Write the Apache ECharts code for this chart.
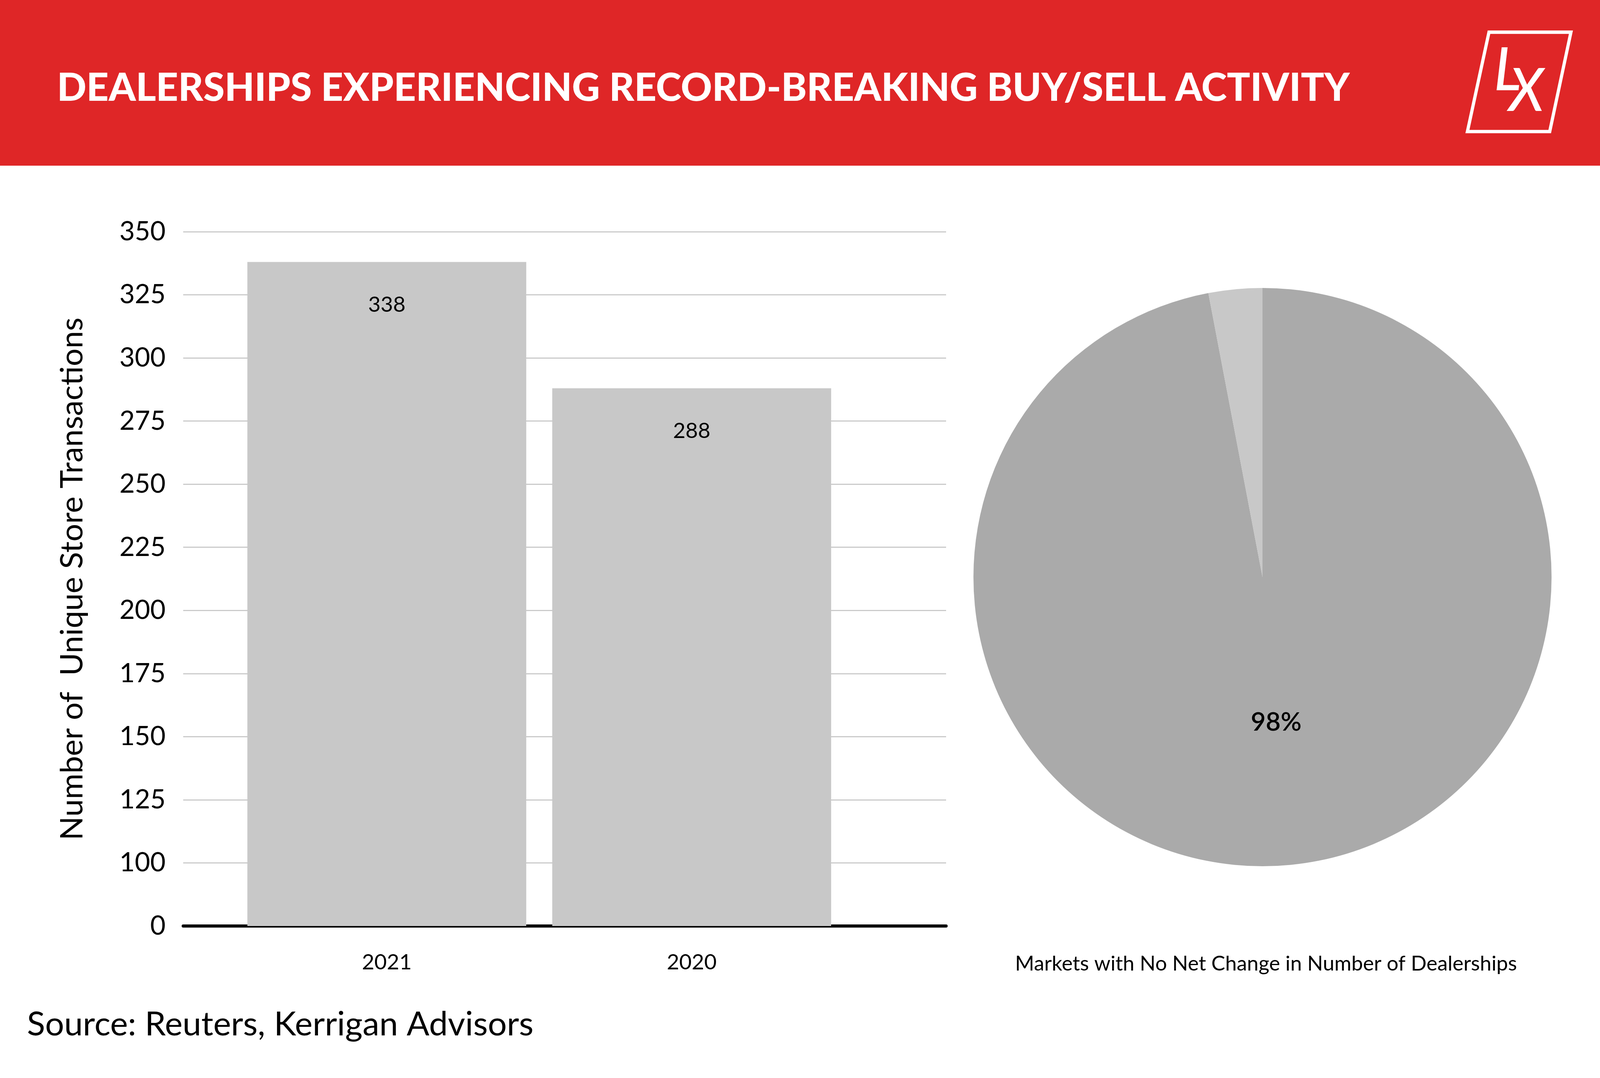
<!DOCTYPE html>
<html>
<head>
<meta charset="utf-8">
<title>Dealerships buy/sell activity</title>
<script src="https://cdn.jsdelivr.net/npm/echarts@6.0.0/dist/echarts.min.js"></script>
<style>
  html, body { margin: 0; padding: 0; background: #fff; overflow: hidden; }
  #main { width: 100vw; height: 100vh; }
</style>
</head>
<body>
<div id="main"></div>
<script>
// 柱状图数据
var years = ['2021', '2020'];
var transactions = [338, 288];
// y轴刻度 (最下面一格写的是0, 实际位置在75)
var yTickValues = [75, 100, 125, 150, 175, 200, 225, 250, 275, 300, 325, 350];
var yTickLabels = ['0', '100', '125', '150', '175', '200', '225', '250', '275', '300', '325', '350'];
// 饼图数据
var pieNames = ['No Net Change', 'Net Change'];
var pieValues = [97, 3];
var pieLabels = ['98%', ''];

var FONT = 'Lato';
var RED = '#df2627';

var myChart = echarts.init(document.getElementById('main'), null, { renderer: 'canvas' });
// 原图是5000x2759, 窗口宽度不够时按比例换算横坐标
var W = myChart.getWidth();
var H = myChart.getHeight();
function px(x) { return Math.round(x / 5000 * W); }
function py(y) { return Math.round(y / 2759 * H); }

/*
 * y轴刻度文字
 * */
function y_label(v) {
    var i = yTickValues.indexOf(v);
    return i < 0 ? '' : yTickLabels[i];
}

/*
 * 头部 标题 logo 来源等
 * */
function header_graphic() {
    return [
        {
            type: 'rect', left: 0, top: 0, z: 0,
            shape: { width: W, height: py(424) },
            style: { fill: RED }
        },
        {
            type: 'text', x: px(178), y: py(226), z: 1,
            style: {
                text: 'DEALERSHIPS EXPERIENCING RECORD-BREAKING BUY/SELL ACTIVITY',
                fill: '#fff', font: '900 99px ' + FONT,
                textAlign: 'left', textVerticalAlign: 'middle'
            }
        },
        //logo
        {
            type: 'group', x: px(4749), y: py(210), scaleX: 0.92, scaleY: 0.96, z: 1,
            children: [
                {
                    type: 'polygon',
                    shape: { points: [[-85, -133], [143, -133], [84, 132], [-145, 132]] },
                    style: { fill: 'none', stroke: '#fff', lineWidth: 9 }
                },
                {
                    type: 'text', x: -33, y: -30,
                    style: {
                        text: 'L', fill: '#fff', font: 'italic 500 160px ' + FONT,
                        textAlign: 'center', textVerticalAlign: 'middle'
                    }
                },
                {
                    type: 'text', x: 19, y: 25,
                    style: {
                        text: 'X', fill: '#fff', font: 'italic 500 160px ' + FONT,
                        textAlign: 'center', textVerticalAlign: 'middle'
                    }
                }
            ]
        },
        //饼图下方说明
        {
            type: 'text', x: px(3956), y: py(2467),
            style: {
                text: 'Markets with No Net Change in Number of Dealerships',
                fill: '#000', font: '400 53px ' + FONT,
                textAlign: 'center', textVerticalAlign: 'middle'
            }
        },
        //数据来源
        {
            type: 'text', x: px(84), y: py(2622),
            style: {
                text: 'Source: Reuters, Kerrigan Advisors',
                fill: '#000', font: '400 86px ' + FONT,
                textAlign: 'left', textVerticalAlign: 'middle'
            }
        }
    ];
}

var option = {
    backgroundColor: '#fff',
    animation: false,
    textStyle: { fontFamily: FONT },
    graphic: header_graphic(),
    grid: [
        //网格线和y轴用
        { left: px(572), right: W - px(2956), top: py(593), bottom: H - py(2370) },
        //柱子用
        { left: px(732), right: W - px(2638), top: py(593), bottom: H - py(2370) }
    ],
    xAxis: [
        {
            gridIndex: 0, type: 'category', data: years,
            axisLine: { show: true, lineStyle: { color: '#000', width: 8 } },
            axisTick: { show: false },
            axisLabel: { show: false },
            splitLine: { show: false }
        },
        {
            gridIndex: 1, type: 'category', data: years,
            axisLine: { show: false },
            axisTick: { show: false },
            axisLabel: { color: '#000', fontSize: 55, fontFamily: FONT, margin: 66 },
            splitLine: { show: false }
        }
    ],
    yAxis: [
        {
            gridIndex: 0, type: 'value', min: 75, max: 350, interval: 25,
            name: 'Number of  Unique Store Transactions',
            nameLocation: 'middle', nameRotate: 90, nameGap: 244,
            nameTextStyle: { color: '#000', fontSize: 80, fontFamily: FONT },
            axisLine: { show: false },
            axisTick: { show: false },
            axisLabel: {
                color: '#000', fontSize: 68, fontFamily: FONT, margin: 45,
                formatter: y_label
            },
            splitLine: { show: true, lineStyle: { color: '#cbcbcb', width: 3 } }
        },
        {
            gridIndex: 1, type: 'value', min: 75, max: 350, interval: 25,
            show: false
        }
    ],
    series: [
        {
            name: 'Transactions', type: 'bar',
            xAxisIndex: 1, yAxisIndex: 1,
            data: transactions,
            barWidth: px(872),
            itemStyle: { color: '#c8c8c8' },
            label: {
                show: true, position: 'insideTop', distance: 82,
                color: '#000', fontSize: 55, fontFamily: FONT
            }
        },
        {
            name: 'Markets', type: 'pie',
            center: [px(3945), py(1477)], radius: 740,
            startAngle: 90, clockwise: true,
            label: {
                show: true, position: 'inside',
                color: '#000', fontSize: 66, fontWeight: 600, fontFamily: FONT,
                formatter: function (p) { return pieLabels[p.dataIndex]; }
            },
            labelLine: { show: false },
            emphasis: { disabled: true },
            data: [
                { name: pieNames[0], value: pieValues[0], itemStyle: { color: '#aaaaaa' } },
                { name: pieNames[1], value: pieValues[1], itemStyle: { color: '#c8c8c8' } }
            ]
        }
    ]
};
myChart.setOption(option);
</script>
</body>
</html>
